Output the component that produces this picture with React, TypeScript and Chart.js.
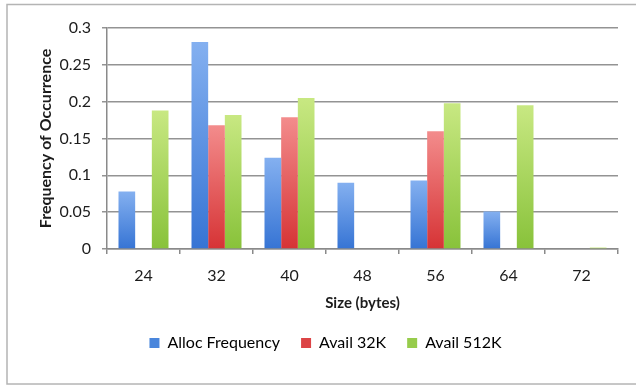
import { useEffect, useRef } from "react";
import { Chart, registerables } from "chart.js";

Chart.register(...registerables);

// Block sizes (bytes) on the category axis
const sizes = ["24", "32", "40", "48", "56", "64", "72"];

// Frequency of occurrence per block size
const allocFrequency = [0.078, 0.281, 0.124, 0.09, 0.093, 0.051, 0];
const avail32K = [0, 0.168, 0.179, 0.001, 0.16, 0.001, 0.001];
const avail512K = [0.188, 0.182, 0.205, 0.001, 0.198, 0.195, 0.002];

// Value axis ticks
const yTicks = [0, 0.05, 0.1, 0.15, 0.2, 0.25, 0.3];

const FONT = "Lato, 'Open Sans', sans-serif";
const TEXT = "#1c1c1c";

// Per-bar vertical gradient: light at the top, deeper at the base
function barFill(top: string, bottom: string) {
  return (ctx: any) => {
    const chart = ctx.chart;
    const y = chart.scales?.y;
    if (ctx.type !== "data" || !y || !chart.chartArea) return bottom;
    const v = ctx.parsed ? ctx.parsed.y : ctx.raw;
    const yTop = y.getPixelForValue(v);
    const yBase = y.getPixelForValue(0);
    if (Math.abs(yBase - yTop) < 1) return bottom;
    const g = chart.ctx.createLinearGradient(0, yTop, 0, yBase);
    g.addColorStop(0, top);
    g.addColorStop(1, bottom);
    return g;
  };
}

// White page with a thin grey frame around the chart
const framePlugin = {
  id: "frame",
  beforeDraw(chart: any) {
    const { ctx, width, height } = chart;
    ctx.save();
    ctx.fillStyle = "#ffffff";
    ctx.fillRect(0, 0, width, height);
    ctx.strokeStyle = "#b4b4b4";
    ctx.lineWidth = 1.5;
    ctx.strokeRect(7, 4.5, width + 10, height - 6.5);
    ctx.restore();
  },
};

export default function App() {
  const canvasRef = useRef<HTMLCanvasElement | null>(null);

  useEffect(() => {
    document.body.style.margin = "0";
    const canvas = canvasRef.current;
    if (!canvas) return;

    const chart = new Chart(canvas, {
      type: "bar",
      data: {
        labels: sizes,
        datasets: [
          {
            label: "Alloc Frequency",
            data: allocFrequency,
            backgroundColor: barFill("#84b0f0", "#3674d4") as any,
            categoryPercentage: 0.685,
            barPercentage: 1,
          },
          {
            label: "Avail 32K",
            data: avail32K,
            backgroundColor: barFill("#f38c8c", "#d63335") as any,
            categoryPercentage: 0.685,
            barPercentage: 1,
          },
          {
            label: "Avail 512K",
            data: avail512K,
            backgroundColor: barFill("#c8e882", "#88c23a") as any,
            categoryPercentage: 0.685,
            barPercentage: 1,
          },
        ],
      },
      options: {
        responsive: false,
        animation: false,
        devicePixelRatio: 1,
        layout: { padding: { top: 28, right: 18, left: 33, bottom: 25 } },
        plugins: {
          tooltip: { enabled: false },
          legend: {
            position: "bottom",
            labels: {
              boxWidth: 10,
              boxHeight: 10,
              padding: 21,
              color: TEXT,
              font: { family: FONT, size: 16 },
              generateLabels: (c: any) =>
                c.data.datasets.map((ds: any, i: number) => ({
                  text: ds.label,
                  fillStyle: ["#4a86dc", "#dc4446", "#97cc4c"][i],
                  strokeStyle: "rgba(0,0,0,0)",
                  lineWidth: 0,
                  hidden: false,
                  datasetIndex: i,
                })),
            },
          },
        },
        scales: {
          x: {
            grid: {
              display: true,
              drawOnChartArea: false,
              drawTicks: true,
              tickLength: 5,
              offset: true,
              color: "#8a8a8a",
              lineWidth: 1.5,
            },
            border: { display: true, color: "#8a8a8a", width: 1.5 },
            ticks: {
              color: TEXT,
              padding: 12,
              font: { family: FONT, size: 16 },
            },
            title: {
              display: true,
              text: "Size (bytes)",
              color: TEXT,
              font: { family: FONT, size: 15, weight: "bold" },
              padding: { top: 4, bottom: 2 },
            },
            afterFit: (s: any) => {
              s.height = 65;
            },
          },
          y: {
            min: 0,
            max: 0.3,
            afterBuildTicks: (s: any) => {
              s.ticks = yTicks.map((v) => ({ value: v }));
            },
            grid: {
              color: "#939393",
              lineWidth: 1.5,
              drawTicks: true,
              tickLength: 5,
            },
            border: { display: true, color: "#8a8a8a", width: 1.5 },
            ticks: {
              color: TEXT,
              padding: 11,
              font: { family: FONT, size: 16 },
              callback: (v: any) => String(Number(v)),
            },
            title: {
              display: true,
              text: "Frequency of Occurrence",
              color: TEXT,
              font: { family: FONT, size: 16, weight: "bold" },
              padding: { top: 3, bottom: 4 },
            },
            afterFit: (s: any) => {
              s.width = 74;
            },
          },
        },
      },
      plugins: [framePlugin],
    });

    return () => chart.destroy();
  }, []);

  return (
    <div style={{ width: 636, height: 386 }}>
      <canvas ref={canvasRef} width={636} height={386} style={{ display: "block" }} />
    </div>
  );
}
